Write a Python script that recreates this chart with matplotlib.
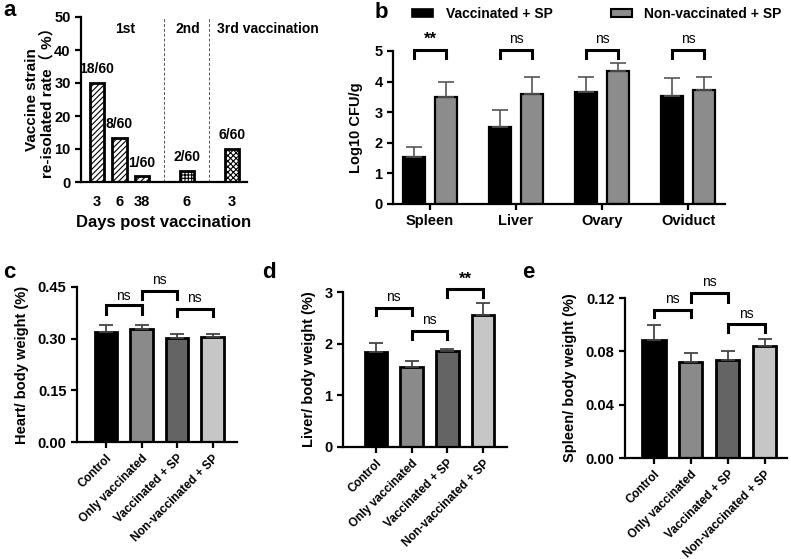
import matplotlib
matplotlib.use('Agg')
import matplotlib.pyplot as plt
from matplotlib.patches import Patch
import numpy as np

plt.rcParams['font.family'] = ['Liberation Sans', 'Noto Sans CJK SC', 'DejaVu Sans']
plt.rcParams['font.weight'] = 'bold'
plt.rcParams['axes.labelweight'] = 'bold'
plt.rcParams['hatch.linewidth'] = 0.8

# ---- panel a data ----
a_pos = [0, 1, 2, 4, 6]
a_days = ['3', '6', '38', '6', '3']
a_rate = [30.0, 13.33, 1.67, 3.33, 10.0]
a_frac = ['18/60', '8/60', '1/60', '2/60', '6/60']
a_hatch = ['//////', '//////', '//////', '+++++', 'xxxxxx']
a_groups = ['1st', '2nd', '3rd vaccination']

# ---- panel b data ----
organs = ['Spleen', 'Liver', 'Ovary', 'Oviduct']
b_vacc = [1.55, 2.53, 3.67, 3.53]
b_vacc_err = [0.30, 0.55, 0.48, 0.58]
b_nonvacc = [3.51, 3.60, 4.35, 3.74]
b_nonvacc_err = [0.47, 0.56, 0.25, 0.40]
b_sig = ['**', 'ns', 'ns', 'ns']

# ---- panels c-e data ----
groups = ['Control', 'Only vaccinated', 'Vaccinated + SP', 'Non-vaccinated + SP']
heart = [0.320, 0.327, 0.301, 0.304]
heart_err = [0.021, 0.014, 0.014, 0.011]
liver = [1.84, 1.55, 1.85, 2.56]
liver_err = [0.18, 0.11, 0.05, 0.22]
spleen = [0.0888, 0.0720, 0.0733, 0.0838]
spleen_err = [0.0112, 0.0070, 0.0067, 0.0052]

group_colors = ['#000000', '#8a8a8a', '#646464', '#c6c6c6']

fig = plt.figure(figsize=(7.91, 5.59), dpi=100)


def style_axes(ax):
    for s in ['top', 'right']:
        ax.spines[s].set_visible(False)
    for s in ['left', 'bottom']:
        ax.spines[s].set_linewidth(1.6)
    ax.tick_params(width=1.6, length=4, labelsize=10.5)


def bracket(ax, x1, x2, y, drop, label, txt_y):
    ax.plot([x1, x1, x2, x2], [y - drop, y, y, y - drop], color='black',
            lw=2.2, clip_on=False, solid_joinstyle='miter')
    if label == 'ns':
        ax.text((x1 + x2) / 2, txt_y, label, ha='center', va='center',
                fontsize=10, fontweight='normal', clip_on=False)
    else:
        ax.text((x1 + x2) / 2, txt_y, label, ha='center', va='center',
                fontsize=12, fontweight='bold', clip_on=False)


# ---------------- a ----------------
ax = fig.add_axes([81 / 791, 1 - 182 / 559, 166 / 791, 165 / 559])
style_axes(ax)
for x, v, f, h in zip(a_pos, a_rate, a_frac, a_hatch):
    ax.bar(x, v, width=0.65, color='white', edgecolor='black', lw=2, hatch=h)
    ax.text(x, v + 2, f, ha='center', va='bottom', fontsize=10)
for xv in [3, 5]:
    ax.plot([xv, xv], [0, 50], ls=(0, (3, 2)), color='#555555', lw=0.7)
ax.set_xlim(-0.71, 6.67)
ax.set_ylim(0, 50)
ax.set_yticks(np.arange(0, 51, 10))
ax.set_xticks(a_pos)
ax.set_xticklabels(a_days)
ax.tick_params(axis='x', length=0, pad=9)
for gx, gl in zip([1.25, 4.05, 7.6], a_groups):
    ax.text(gx, 46.4, gl, ha='center', va='center', fontsize=10, clip_on=False)
ax.set_xlabel('Days post vaccination', fontsize=12, labelpad=5)
ax.set_ylabel('Vaccine strain\nre-isolated rate（ %）', fontsize=11, labelpad=0,
              linespacing=1.05)

# ---------------- b ----------------
ax = fig.add_axes([393 / 791, 1 - 204 / 559, 332 / 791, 153 / 559])
style_axes(ax)
xb = np.arange(len(organs))
off, bw = 0.186, 0.245
ax.bar(xb - off, b_vacc, width=bw, color='black', edgecolor='black', lw=1.6)
ax.bar(xb + off, b_nonvacc, width=bw, color='#8c8c8c', edgecolor='black', lw=1.6)
ax.errorbar(xb - off, b_vacc, yerr=[np.zeros(4), b_vacc_err], fmt='none',
            ecolor='#555555', elinewidth=1.2, capsize=6, capthick=1.2)
ax.errorbar(xb + off, b_nonvacc, yerr=[np.zeros(4), b_nonvacc_err], fmt='none',
            ecolor='#555555', elinewidth=1.2, capsize=6, capthick=1.2)
for i, s in enumerate(b_sig):
    bracket(ax, i - off, i + off, 5.03, 0.26, s, 5.38)
ax.set_xlim(-0.43, 3.43)
ax.set_ylim(0, 5)
ax.set_yticks(range(6))
ax.set_xticks(xb)
ax.set_xticklabels(organs, fontsize=10.5)
ax.set_ylabel('Log10 CFU/g', fontsize=10.5, labelpad=8)
fig.legend(handles=[Patch(facecolor='black', edgecolor='black', lw=1.2),
                    Patch(facecolor='#8c8c8c', edgecolor='black', lw=1.5)],
           labels=['Vaccinated + SP', 'Non-vaccinated + SP'],
           loc='center left', bbox_to_anchor=(400 / 791, 1 - 14 / 559), ncol=2,
           frameon=False, fontsize=10, handlelength=1.5, handleheight=0.55,
           columnspacing=4.2, handletextpad=0.9)

# ---------------- c, d, e ----------------
panels = [
    ([77, 287, 237, 442], heart, heart_err, (0, 0.45), [0, 0.15, 0.30, 0.45], '%.2f',
     'Heart/ body weight (%)', (-0.82, 3.69),
     [(0, 1, 0.397, 0.024, 'ns', 0.423), (1, 2, 0.437, 0.022, 'ns', 0.471),
      (2, 3, 0.387, 0.022, 'ns', 0.419)]),
    ([343, 292, 507, 447], liver, liver_err, (0, 3), [0, 1, 2, 3], '%d',
     'Liver/ body weight (%)', (-0.92, 3.67),
     [(0, 1, 2.70, 0.15, 'ns', 2.91), (1, 2, 2.245, 0.145, 'ns', 2.46),
      (2, 3, 3.05, 0.15, '**', 3.24)]),
    ([625, 298, 787, 458], spleen, spleen_err, (0, 0.12), [0, 0.04, 0.08, 0.12], '%.2f',
     'Spleen/ body weight (%)', (-0.78, 3.6),
     [(0, 1, 0.1108, 0.005, 'ns', 0.1195), (1, 2, 0.1238, 0.0068, 'ns', 0.1323),
      (2, 3, 0.1003, 0.0058, 'ns', 0.1083)]),
]
xg = np.arange(len(groups))
for box, vals, errs, ylim, yt, fmt, ylab, xlim, brs in panels:
    l, t, r, b = box
    ax = fig.add_axes([l / 791, 1 - b / 559, (r - l) / 791, (b - t) / 559])
    style_axes(ax)
    ax.bar(xg, vals, width=0.63, color=group_colors, edgecolor='black', lw=2)
    ax.errorbar(xg, vals, yerr=[np.zeros(4), errs], fmt='none', ecolor='#444444',
                elinewidth=1.3, capsize=5, capthick=1.3)
    for x1, x2, y, d, s, ty in brs:
        bracket(ax, x1, x2, y, d, s, ty)
    ax.set_xlim(*xlim)
    ax.set_ylim(*ylim)
    ax.set_yticks(yt)
    ax.set_yticklabels([fmt % v for v in yt])
    ax.set_xticks(xg)
    ax.set_xticklabels(groups, rotation=45, ha='right', rotation_mode='anchor',
                       fontsize=8.5)
    ax.set_ylabel(ylab, fontsize=10.5, labelpad=6)

# panel letters
for lx, ly, lt in [(3, 10, 'a'), (375, 12, 'b'), (3, 272, 'c'), (262, 272, 'd'), (522, 272, 'e')]:
    fig.text(lx / 791, 1 - ly / 559, lt, fontsize=16, fontweight='bold', va='center')

fig.savefig('out.png', dpi=100)
